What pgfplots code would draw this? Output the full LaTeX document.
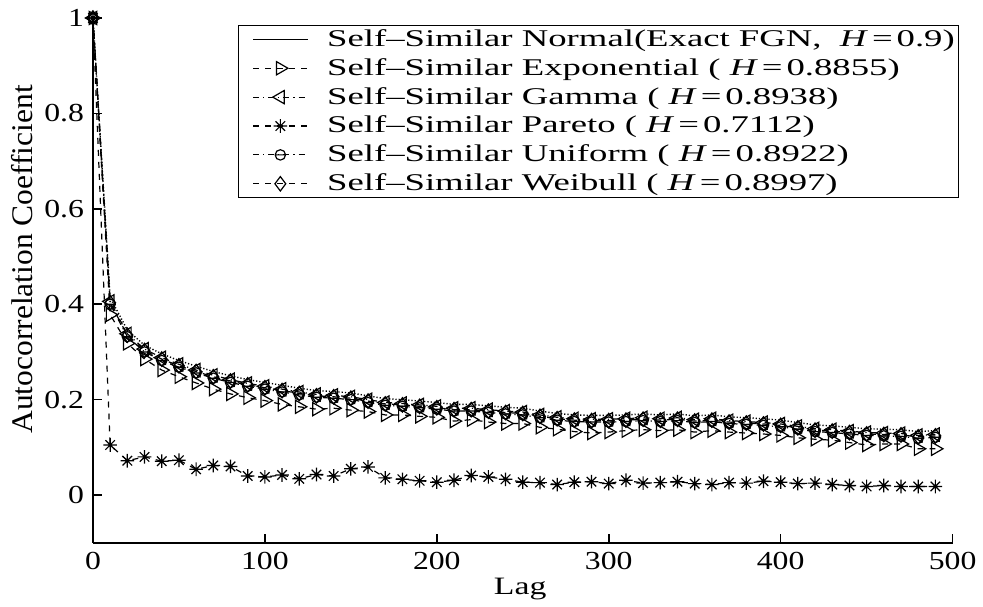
\documentclass[border=0pt]{standalone}
\usepackage{fontspec}
\setmainfont{Liberation Serif}
\newfontfamily\tickfont[Ligatures=TeX, FakeStretch=1.22]{Liberation Serif}
\newfontfamily\legfont[Ligatures=TeX, FakeStretch=1.53]{Liberation Serif}
\newfontfamily\labfont[Ligatures=TeX, FakeStretch=1.35]{Liberation Serif}
\newfontfamily\ylabfont[Ligatures=TeX, FakeStretch=1.05]{Liberation Serif}
\usepackage{pgfplots}
\pgfplotsset{compat=1.18}
\usepackage{pgfplotstable}

% circle with a bar, and the eight-armed star of the original plot
\pgfdeclareplotmark{ominus}{%
  \pgfpathcircle{\pgfpointorigin}{\pgfplotmarksize}%
  \pgfpathmoveto{\pgfqpoint{-\pgfplotmarksize}{0pt}}%
  \pgfpathlineto{\pgfqpoint{\pgfplotmarksize}{0pt}}%
  \pgfusepathqstroke}
\pgfdeclareplotmark{mstar}{%
  \pgfpathmoveto{\pgfqpoint{-\pgfplotmarksize}{0pt}}\pgfpathlineto{\pgfqpoint{\pgfplotmarksize}{0pt}}%
  \pgfpathmoveto{\pgfqpoint{0pt}{-\pgfplotmarksize}}\pgfpathlineto{\pgfqpoint{0pt}{\pgfplotmarksize}}%
  \pgfpathmoveto{\pgfqpoint{-.7\pgfplotmarksize}{-.7\pgfplotmarksize}}\pgfpathlineto{\pgfqpoint{.7\pgfplotmarksize}{.7\pgfplotmarksize}}%
  \pgfpathmoveto{\pgfqpoint{-.7\pgfplotmarksize}{.7\pgfplotmarksize}}\pgfpathlineto{\pgfqpoint{.7\pgfplotmarksize}{-.7\pgfplotmarksize}}%
  \pgfusepathqstroke}

\pgfplotstableread{
lag normal expo gamma pareto uniform weibull
0 1 1 1 1 1 1
10 0.414 0.378 0.406 0.105 0.400 0.403
20 0.346 0.318 0.338 0.072 0.332 0.335
30 0.314 0.285 0.306 0.080 0.300 0.303
40 0.296 0.262 0.288 0.071 0.282 0.285
50 0.282 0.248 0.274 0.073 0.268 0.271
60 0.270 0.235 0.262 0.054 0.256 0.259
70 0.259 0.222 0.251 0.062 0.245 0.248
80 0.250 0.212 0.242 0.060 0.236 0.239
90 0.242 0.204 0.234 0.040 0.228 0.231
100 0.236 0.198 0.228 0.038 0.222 0.225
110 0.230 0.190 0.222 0.042 0.216 0.219
120 0.224 0.185 0.216 0.034 0.210 0.213
130 0.219 0.180 0.211 0.043 0.205 0.208
140 0.217 0.182 0.209 0.040 0.203 0.206
150 0.214 0.178 0.206 0.055 0.200 0.203
160 0.208 0.175 0.200 0.059 0.194 0.197
170 0.202 0.168 0.194 0.036 0.188 0.191
180 0.200 0.168 0.192 0.033 0.186 0.189
190 0.197 0.165 0.189 0.030 0.183 0.186
200 0.194 0.163 0.186 0.027 0.180 0.183
210 0.190 0.155 0.182 0.031 0.176 0.179
220 0.190 0.158 0.182 0.041 0.176 0.179
230 0.187 0.153 0.179 0.038 0.173 0.176
240 0.184 0.150 0.176 0.033 0.170 0.173
250 0.182 0.150 0.174 0.027 0.168 0.171
260 0.176 0.142 0.168 0.026 0.162 0.165
270 0.171 0.138 0.163 0.022 0.157 0.160
280 0.168 0.133 0.160 0.027 0.154 0.157
290 0.167 0.130 0.159 0.028 0.153 0.156
300 0.167 0.132 0.159 0.024 0.153 0.156
310 0.168 0.135 0.160 0.031 0.154 0.157
320 0.170 0.137 0.162 0.025 0.156 0.159
330 0.168 0.135 0.160 0.026 0.154 0.157
340 0.170 0.137 0.162 0.028 0.156 0.159
350 0.166 0.132 0.158 0.024 0.152 0.155
360 0.168 0.135 0.160 0.022 0.154 0.157
370 0.164 0.132 0.156 0.026 0.150 0.153
380 0.162 0.130 0.154 0.025 0.148 0.151
390 0.160 0.128 0.152 0.029 0.146 0.149
400 0.157 0.125 0.149 0.027 0.143 0.146
410 0.152 0.120 0.144 0.024 0.138 0.141
420 0.147 0.117 0.139 0.025 0.133 0.136
430 0.145 0.115 0.137 0.022 0.131 0.134
440 0.142 0.110 0.134 0.020 0.128 0.131
450 0.139 0.105 0.131 0.018 0.125 0.128
460 0.138 0.107 0.130 0.020 0.124 0.127
470 0.137 0.107 0.129 0.018 0.123 0.126
480 0.133 0.097 0.125 0.018 0.119 0.122
490 0.135 0.097 0.127 0.018 0.121 0.124
}\acf

\begin{document}
\begin{tikzpicture}
\begin{axis}[
    scale only axis,
    width=430pt, height=262.5pt,
    xmin=0, xmax=500, ymin=-0.1, ymax=1,
    xtick={0,100,...,500},
    ytick={0,0.2,0.4,0.6,0.8,1},
    axis x line*=bottom, axis y line*=left,
    axis line style={-, line width=1pt},
    tick align=inside, major tick length=4.5pt,
    tick style={line width=0.8pt, black},
    ticklabel style={font=\tickfont\fontsize{13}{15}\selectfont},
    /pgf/number format/assume math mode=true,
    yticklabel style={xshift=-1pt},
    xticklabel style={yshift=-1pt},
    xlabel={Lag}, ylabel={Autocorrelation Coefficient},
    every axis x label/.style={at={(rel axis cs:0.497,0)}, anchor=center,
        yshift=-23pt, font=\labfont\fontsize{12.5}{14}\selectfont},
    every axis y label/.style={at={(rel axis cs:0,0.54)}, anchor=center,
        rotate=90, yshift=35.5pt, font=\ylabfont\fontsize{15}{17}\selectfont},
    clip=false,
    every axis plot/.append style={line width=0.6pt, black},
    legend image code/.code={\draw[mark repeat=2,mark phase=2]
        plot coordinates {(0cm,0cm) (0.48cm,0cm) (0.96cm,0cm)};
        \path (-0.25cm,0cm) (1.22cm,0cm);},
    legend style={at={(rel axis cs:1.008,0.987)}, anchor=north east,
        draw=black, line width=0.6pt, fill=white,
        font=\legfont\fontsize{12}{14}\selectfont, cells={anchor=west},
        row sep=0.5pt, inner xsep=0pt, inner ysep=0pt},
    after end axis/.code={%
        \path ([xshift=-46.5pt,yshift=-30pt]current axis.south west)
              ([xshift=15pt,yshift=9pt]current axis.north east);},
]
\addplot[densely dotted, line width=0.7pt, legend image post style={solid}]
    table[x=lag, y=normal] {\acf};
\addlegendentry{Self--Similar Normal(Exact FGN,\ \ \textit{H}\,=\,0.9)}
\addplot[dashed, mark=triangle, mark size=3.8pt, mark options={solid, rotate=-90}]
    table[x=lag, y=expo] {\acf};
\addlegendentry{Self--Similar Exponential ( \textit{H}\,=\,0.8855)}
\addplot[dashdotted, mark=triangle, mark size=3.8pt, mark options={solid, rotate=90}]
    table[x=lag, y=gamma] {\acf};
\addlegendentry{Self--Similar Gamma ( \textit{H}\,=\,0.8938)}
\addplot[dashed, mark=mstar, mark size=3.4pt, mark options={solid}]
    table[x=lag, y=pareto] {\acf};
\addlegendentry{Self--Similar Pareto ( \textit{H}\,=\,0.7112)}
\addplot[dashdotted, mark=ominus, mark size=2.6pt, mark options={solid}]
    table[x=lag, y=uniform] {\acf};
\addlegendentry{Self--Similar Uniform ( \textit{H}\,=\,0.8922)}
\addplot[dashed, mark=diamond, mark size=3.6pt, mark options={solid}]
    table[x=lag, y=weibull] {\acf};
\addlegendentry{Self--Similar Weibull ( \textit{H}\,=\,0.8997)}
\end{axis}
\end{tikzpicture}
\end{document}
